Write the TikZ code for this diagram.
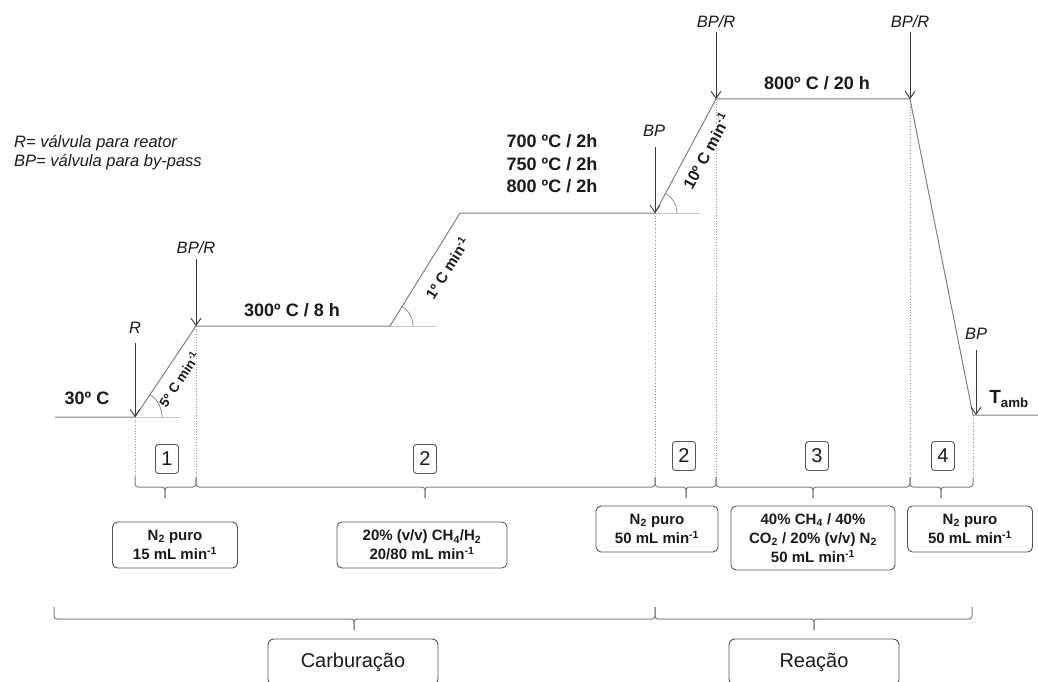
\documentclass[tikz,border=0pt]{standalone}
\usepackage{fontspec}
\setmainfont{Liberation Sans}
\usetikzlibrary{arrows.meta}
\definecolor{prof}{HTML}{808080}
\definecolor{extg}{HTML}{C4C4C4}
\definecolor{arrg}{HTML}{3A3A3A}
\definecolor{boxg}{HTML}{555555}
\definecolor{txt}{HTML}{1A1A1A}
\newcommand\tbrace[6]{%
  \draw[bracestyle] (#1,#4) -- (#1,#5) -- (#2,#5) -- (#2,#6);
  \draw[bracestyle] (#3,#4) -- (#3,#5) -- (#2,#5) -- (#2,#6);}
\begin{document}
\begin{tikzpicture}[x=1pt,y=-1pt,
  profile/.style={draw=prof,line width=1pt},
  ext/.style={draw=extg,line width=1pt},
  angarc/.style={draw=prof,line width=0.7pt},
  dotline/.style={draw=prof!80,line width=0.7pt,dotted},
  valve/.style={draw=arrg,line width=0.9pt,-{Straight Barb[length=7pt,width=10pt]}},
  valvelbl/.style={font=\itshape\fontsize{16.5}{18}\selectfont,text=txt,inner sep=0pt},
  temp/.style={font=\bfseries\fontsize{18}{22.5}\selectfont,text=txt,inner sep=0pt,align=center},
  slope/.style={font=\bfseries\fontsize{#1}{#1}\selectfont,text=txt,inner sep=0pt},
  bracestyle/.style={draw=prof,line width=1pt,rounded corners=3pt},
  stepno/.style={draw=boxg,line width=0.9pt,rounded corners=3pt,minimum width=23pt,minimum height=29pt,inner sep=0pt,font=\fontsize{20}{20}\selectfont,text=txt},
  gasbox/.style={draw=boxg,line width=0.9pt,rounded corners=5pt,inner sep=0pt,align=center,font=\bfseries\fontsize{15}{19}\selectfont,text=txt},
  stagebox/.style={draw=boxg,line width=0.9pt,rounded corners=6pt,inner sep=0pt,minimum width=170pt,minimum height=46pt,font=\fontsize{20}{24}\selectfont,text=txt},
  legend/.style={anchor=west,inner sep=0pt,font=\itshape\fontsize{16.5}{18}\selectfont,text=txt}
]
\useasboundingbox (0,0) rectangle (1038,682);

% profile points
\coordinate (S) at (55,417);
\coordinate (A) at (135,417);
\coordinate (B) at (196,326);
\coordinate (C) at (390,326);
\coordinate (D) at (460,213);
\coordinate (E) at (655,213);
\coordinate (F) at (716,99);
\coordinate (G) at (910,99);
\coordinate (H) at (973,415);
\coordinate (Z) at (1038,415);
\coordinate (Ax) at (180,417);
\coordinate (Cx) at (437,326);
\coordinate (Ex) at (700,213);
\coordinate (dtop) at (0,477);

% reference extensions and angle arcs
\draw[ext] (A) -- (Ax);
\draw[ext] (C) -- (Cx);
\draw[ext] (E) -- (Ex);
\draw[angarc] (A) ++(27,0) arc[start angle=0,end angle=56.3,radius=27pt];
\draw[angarc] (C) ++(23,0) arc[start angle=0,end angle=58.2,radius=23pt];
\draw[angarc] (E) ++(22,0) arc[start angle=0,end angle=61.5,radius=22pt];

% dotted verticals
\draw[dotline] (A) -- (A |- dtop);
\draw[dotline] (B) -- (B |- dtop);
\draw[dotline] (E) -- (E |- dtop);
\draw[dotline] (F) -- (F |- dtop);
\draw[dotline] (G) -- (G |- dtop);
\draw[dotline] (H) -- (H |- dtop);

% profile
\draw[profile] (S) -- (A) -- (B) -- (C) -- (D) -- (E) -- (F) -- (G) -- (H) -- (Z);

% valves
\node[valvelbl] (lR) at (135,328) {R};
\coordinate (vR) at (135,343);
\draw[valve] (vR) -- (A);
\node[valvelbl] (lB) at (196,248) {BP/R};
\coordinate (vB) at (196,259);
\draw[valve] (vB) -- (B);
\node[valvelbl] (lE) at (654,131) {BP};
\coordinate (vE) at (655,147);
\draw[valve] (vE) -- (E);
\node[valvelbl] (lF) at (716,22) {BP/R};
\coordinate (vF) at (716,32);
\draw[valve] (vF) -- (F);
\node[valvelbl] (lG) at (910,22) {BP/R};
\coordinate (vG) at (910,32);
\draw[valve] (vG) -- (G);
\node[valvelbl] (lH) at (976,334) {BP};
\coordinate (vH) at (976,350);
\draw[valve] (vH) -- (vH |- H);

% temperature labels
\node[temp] (t30) at (87,398) {30º C};
\node[temp] (t300) at (292,310) {300º C / 8 h};
\node[temp] (t700) at (552,164) {700 ºC / 2h\\750 ºC / 2h\\800 ºC / 2h};
\node[temp] (t800) at (817,83) {800º C / 20 h};
\node[temp] (tamb) at (1009,399) {\fontsize{19}{22}\selectfont T\textsubscript{amb}};

% slopes
\node[slope=13.5,rotate=56.3] (s5) at (179,379) {5º C min\textsuperscript{-1}};
\node[slope=15,rotate=58.2] (s1) at (447,268) {1º C min\textsuperscript{-1}};
\node[slope=16,rotate=61.5] (s10) at (706,151) {10º C min\textsuperscript{-1}};

% legend
\node[legend] (leg1) at (14,143) {R= válvula para reator};
\node[legend] (leg2) at (14,162) {BP= válvula para by-pass};

% step numbers
\node[stepno] (n1) at (167,459) {1};
\node[stepno] (n2) at (425,459) {2};
\node[stepno] (n3) at (684,456) {2};
\node[stepno] (n4) at (817,456) {3};
\node[stepno] (n5) at (943,456) {4};

% top braces
\tbrace{135}{165}{196}{477}{487}{498}
\tbrace{196}{425}{655}{477}{487}{498}
\tbrace{655}{686}{716}{477}{487}{498}
\tbrace{716}{813}{910}{477}{487}{498}
\tbrace{910}{941}{973}{477}{487}{498}

% gas boxes
\node[gasbox,minimum width=125pt,minimum height=46pt] (g1) at (175,545) {N\textsubscript{2} puro\\15 mL min\textsuperscript{-1}};
\node[gasbox,minimum width=170pt,minimum height=46pt] (g2) at (422,545) {20\% (v/v) CH\textsubscript{4}/H\textsubscript{2}\\20/80 mL min\textsuperscript{-1}};
\node[gasbox,minimum width=122pt,minimum height=46pt] (g3) at (657,529) {N\textsubscript{2} puro\\50 mL min\textsuperscript{-1}};
\node[gasbox,minimum width=164pt,minimum height=64pt] (g4) at (813,538) {40\% CH\textsubscript{4} / 40\%\\CO\textsubscript{2} / 20\% (v/v) N\textsubscript{2}\\50 mL min\textsuperscript{-1}};
\node[gasbox,minimum width=125pt,minimum height=46pt] (g5) at (970,529) {N\textsubscript{2} puro\\50 mL min\textsuperscript{-1}};

% bottom braces
\tbrace{54}{354}{655}{607}{619}{630}
\tbrace{655}{814}{972}{607}{619}{630}

% stage boxes
\node[stagebox] (carb) at (353,662) {Carburação};
\node[stagebox] (reac) at (814,662) {Reação};
\end{tikzpicture}
\end{document}
